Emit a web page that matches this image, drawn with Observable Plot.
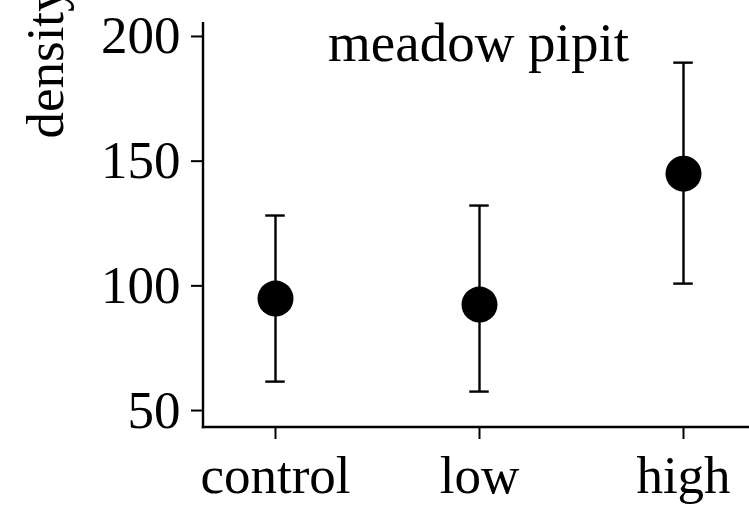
<!DOCTYPE html>
<html>
<head>
<meta charset="utf-8">
<script src="https://cdn.jsdelivr.net/npm/d3@7"></script>
<script src="https://cdn.jsdelivr.net/npm/@observablehq/plot@0.6"></script>
<style>
  html, body { margin: 0; padding: 0; background: #fff; }
  #chart { width: 749px; height: 506px; overflow: hidden; }
</style>
</head>
<body>
<div id="chart"></div>
<script>
// ---- data ----
const categories = ["control", "low", "high"];
const means = [94.9, 92.5, 145.0];
const lower = [61.6, 57.6, 100.9];
const upper = [128.2, 132.2, 189.5];
const yTicks = [50, 100, 150, 200];
const yDomain = [43.2, 205.6];
const title = "meadow pipit";
const yLabel = "density";

const rows = categories.map((c, i) => ({cat: c, mean: means[i], lo: lower[i], hi: upper[i]}));

const W = 749, H = 506;
const font = "'Liberation Serif', 'Times New Roman', serif";

// axis lines along left and bottom of frame
const axisLines = (index, scales, values, dims) => {
  const g = d3.create("svg:g").attr("stroke", "black").attr("stroke-width", 2.4).attr("fill", "none");
  const x0 = dims.marginLeft, y0 = dims.height - dims.marginBottom;
  g.append("line").attr("x1", x0).attr("x2", x0).attr("y1", dims.marginTop).attr("y2", y0 + 1.2);
  g.append("line").attr("x1", x0 - 1.2).attr("x2", dims.width - dims.marginRight).attr("y1", y0).attr("y2", y0);
  return g.node();
};

const chart = Plot.plot({
  width: W,
  height: H,
  marginLeft: 203,
  marginRight: 0,
  marginTop: 22,
  marginBottom: 79,
  style: {fontFamily: font, color: "black", background: "white", overflow: "visible"},
  x: {type: "band", domain: categories, range: [171.75, 785.25], padding: 0},
  y: {domain: yDomain},
  marks: [
    Plot.axisY({ticks: yTicks, tickSize: 12, tickPadding: 11, fontSize: 53, label: null, strokeWidth: 2}),
    Plot.axisX({tickSize: 12, tickPadding: 16, fontSize: 53, label: null, strokeWidth: 2}),
    axisLines,
    Plot.ruleX(rows, {x: "cat", y1: "lo", y2: "hi", stroke: "black", strokeWidth: 2.4}),
    Plot.tickY(rows, {x: "cat", y: "lo", stroke: "black", strokeWidth: 2.4, insetLeft: 92.25, insetRight: 92.25}),
    Plot.tickY(rows, {x: "cat", y: "hi", stroke: "black", strokeWidth: 2.4, insetLeft: 92.25, insetRight: 92.25}),
    Plot.dot(rows, {x: "cat", y: "mean", r: 18, fill: "black", stroke: "none"}),
    Plot.text([title], {frameAnchor: "top", lineAnchor: "top", fontSize: 55, dy: -1, dx: 2, fill: "black"}),
    Plot.text([yLabel], {frameAnchor: "top-left", rotate: -90, textAnchor: "start", lineAnchor: "bottom", fontSize: 53, dx: -141, dy: 116, fill: "black"})
  ]
});
document.getElementById("chart").appendChild(chart);
</script>
</body>
</html>
